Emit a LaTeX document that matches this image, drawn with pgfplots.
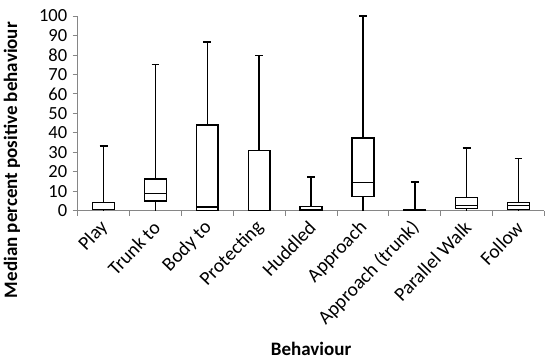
\documentclass[border=0pt]{standalone}
\usepackage{pgfplots}
\pgfplotsset{compat=1.18}
\usepgfplotslibrary{statistics}
\usepackage{fontspec}
\setmainfont{Carlito}
\definecolor{axgray}{RGB}{134,134,134}
\begin{document}
\begin{tikzpicture}
\useasboundingbox (-77.7pt,-153.3pt) rectangle (472.3pt,210.7pt);
\begin{axis}[
  at={(0,0)}, anchor=south west,
  scale only axis,
  width=466.7pt, height=194.7pt,
  xmin=0.5, xmax=9.5, ymin=0, ymax=100,
  axis x line*=bottom, axis y line*=left,
  axis line style={axgray, line width=0.8pt},
  ytick={0,10,...,100},
  xtick={1,...,9},
  xticklabels={Play,Trunk to,Body to,Protecting,Huddled,Approach,Approach (trunk),Parallel Walk,Follow},
  minor xtick={0.5,1.5,...,9.5},
  tick align=outside,
  major x tick style={draw=none},
  minor x tick style={axgray, line width=0.8pt},
  minor tick length=5pt,
  major tick length=5pt,
  y tick style={axgray, line width=0.8pt},
  /pgf/number format/assume math mode=true,
  yticklabel style={font=\fontsize{18.5}{20}\selectfont, xshift=-2pt},
  xticklabel style={font=\fontsize{19.5}{21}\selectfont, rotate=46, anchor=east, xshift=-2pt, yshift=-7pt},
  ylabel={\textbf{Median percent positive behaviour}},
  xlabel={\textbf{Behaviour}},
  label style={font=\fontsize{19}{21}\selectfont},
  ylabel style={at={(axis description cs:-0.141,0.26)}, anchor=center, rotate=0},
  xlabel style={at={(axis description cs:0.50,-0.71)}, anchor=center},
  clip=false,
  boxplot/draw direction=y,
  boxplot/draw/lower whisker/.code={%
    \draw[/pgfplots/boxplot/every whisker/.try]
      (boxplot cs:\pgfplotsboxplotvalue{lower whisker}) --
      (boxplot cs:\pgfplotsboxplotvalue{lower quartile});
  },
  boxplot/box extend=0.42,
  boxplot/whisker extend=0.15,
  bx/.style={draw=black, fill=white, line width=1.5pt, mark=none, solid},
]
\addplot[bx, boxplot prepared={lower whisker=0, lower quartile=0.5, median=0.5, upper quartile=4.1, upper whisker=33.3, draw position=1}] coordinates {};
\addplot[bx, boxplot prepared={lower whisker=0, lower quartile=5.0, median=8.9, upper quartile=16.3, upper whisker=75.2, draw position=2}] coordinates {};
\addplot[bx, boxplot prepared={lower whisker=0, lower quartile=0, median=2.0, upper quartile=44, upper whisker=86.7, draw position=3}] coordinates {};
\addplot[bx, boxplot prepared={lower whisker=0, lower quartile=0, median=0, upper quartile=31, upper whisker=79.8, draw position=4}] coordinates {};
\addplot[bx, boxplot prepared={lower whisker=0, lower quartile=0.3, median=0.3, upper quartile=2.2, upper whisker=17.3, draw position=5}] coordinates {};
\addplot[bx, boxplot prepared={lower whisker=0, lower quartile=7.2, median=14.6, upper quartile=37.3, upper whisker=100, draw position=6}] coordinates {};
\addplot[bx, boxplot prepared={lower whisker=0, lower quartile=0, median=0, upper quartile=0.3, upper whisker=14.7, draw position=7}] coordinates {};
\addplot[bx, boxplot prepared={lower whisker=0, lower quartile=1.2, median=2.6, upper quartile=6.9, upper whisker=32.2, draw position=8}] coordinates {};
\addplot[bx, boxplot prepared={lower whisker=0, lower quartile=0.7, median=2.6, upper quartile=4.3, upper whisker=26.7, draw position=9}] coordinates {};
\end{axis}
\end{tikzpicture}
\end{document}
